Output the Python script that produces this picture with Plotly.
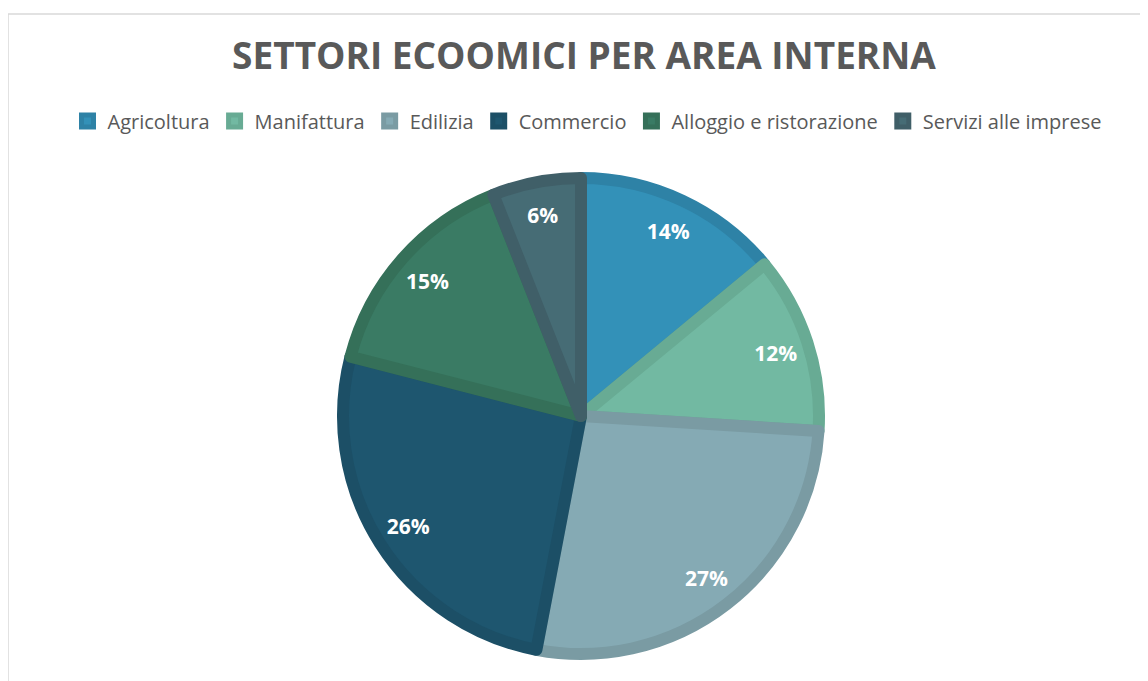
import plotly.graph_objects as go

# data
labels = ["Agricoltura", "Manifattura", "Edilizia", "Commercio",
          "Alloggio e ristorazione", "Servizi alle imprese"]
values = [14, 12, 27, 26, 15, 6]

fill_colors = ["#3391b8", "#72b9a2", "#85aab4", "#1e566f", "#3a7b64", "#466c75"]
edge_colors = ["#2e82a6", "#68ab94", "#7a9ba3", "#1c4f66", "#357059", "#405f68"]

W, H = 1148, 681
OFF = 8  # page body margin pushes the plot 8px right/down

# pie box in page pixels (without the stroke that sticks out)
px0, px1 = 342 - OFF, 820 - OFF
py0, py1 = 178 - OFF, 654 - OFF
dom_x = [px0 / W, px1 / W]
dom_y = [(H - py1) / H, (H - py0) / H]

fig = go.Figure()

# the slices, clockwise from 12 o'clock like excel
fig.add_trace(go.Pie(
    labels=labels, values=values, sort=False, direction="clockwise",
    rotation=0, domain=dict(x=dom_x, y=dom_y),
    marker=dict(colors=fill_colors, line=dict(color=edge_colors, width=12)),
    textinfo="none", hoverinfo="label+percent", showlegend=True,
))

# transparent ring on top just to put the % labels out near the rim
fig.add_trace(go.Pie(
    labels=labels, values=values, sort=False, direction="clockwise",
    rotation=0, domain=dict(x=dom_x, y=dom_y), hole=0.72,
    marker=dict(colors=["rgba(0,0,0,0)"] * 6, line=dict(width=0)),
    texttemplate="%{percent:.0%}", textposition="inside",
    insidetextorientation="horizontal",
    textfont=dict(color="white", size=21, family="Open Sans", weight="bold"),
    hoverinfo="skip", showlegend=False,
))

fig.update_layout(
    width=W, height=H,
    margin=dict(l=0, r=0, t=0, b=0),
    paper_bgcolor="white",
    title=dict(text="<b>SETTORI ECOOMICI PER AREA INTERNA</b>", x=(584 - OFF) / W,
               xanchor="center", y=1 - (56 - OFF) / H, yanchor="middle",
               font=dict(family="Open Sans", size=37, color="#595959")),
    legend=dict(orientation="h", x=(587 - OFF) / W, xanchor="center",
                y=1 - (121 - OFF) / H, yanchor="middle",
                font=dict(family="Open Sans", size=20, color="#595959"),
                itemwidth=30, traceorder="normal"),
    shapes=[dict(type="rect", xref="paper", yref="paper",
                 x0=0, x1=1.05, y0=-0.05, y1=1 - (14 - OFF) / H,
                 line=dict(color="#d9d9d9", width=1.5))],
)

fig.write_html("out.html")
